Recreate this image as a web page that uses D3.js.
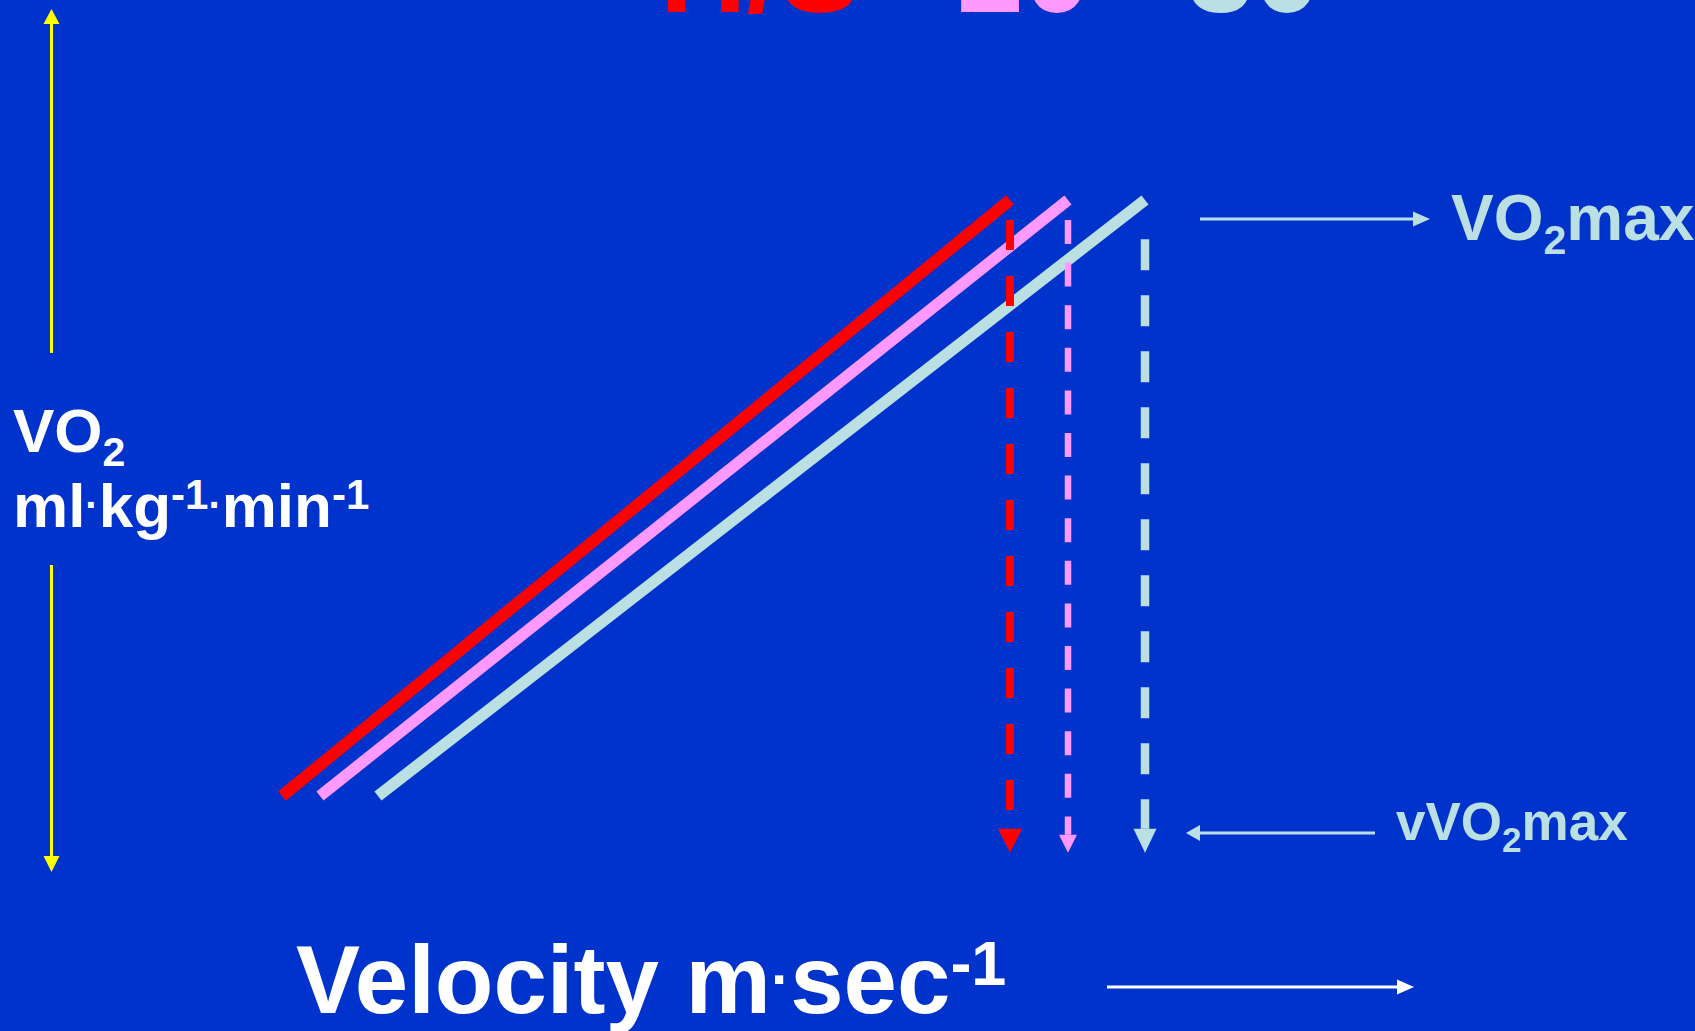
<!DOCTYPE html>
<html>
<head>
<meta charset="utf-8">
<script src="https://cdn.jsdelivr.net/npm/d3@7"></script>
<style>
  html, body { margin: 0; padding: 0; background: #0033CC; overflow: hidden; }
  svg { display: block; }
  text { font-family: "Liberation Sans", Arial, Helvetica, sans-serif; font-weight: bold; }
</style>
</head>
<body>
<svg id="chart" width="1695" height="1031"></svg>
<script>
// Groups compared: each has its own VO2–velocity line
const groups = ["H/S", "20", "30"];
// Velocity (relative units) where each line starts, and where it reaches VO2max (= vVO2max)
const velocityStart = [0.82, 1.20, 1.78];
const vVO2max = [8.10, 8.68, 9.45];
// VO2 (relative units) at the start of each line; all groups reach the same VO2max
const vo2Start = [13.0, 13.0, 13.0];
const vo2Max = [87.5, 87.5, 87.5];
// VO2 level where each vVO2max drop line begins, and the floor it points down to
const dropStart = [85.0, 85.0, 82.6];
const dropFloor = 5.9;

// Styling per group
const colors = ["#FF0000", "#FF99FF", "#BBE0E3"];
const lineWidths = [12, 11.5, 11.5];
const dropWidths = [8, 6.5, 8.5];
const dropDash = ["30 26", "24 18.6", "31 25"];
const headSize = [[24, 24], [18, 18], [23, 24]]; // [width, length]
const titleX = [660, 957, 1187];

const svg = d3.select("#chart");
const W = 1695, H = 1031;

svg.append("rect").attr("width", W).attr("height", H).attr("fill", "#0033CC");

const x = d3.scaleLinear().domain([0, 10]).range([200, 1200]);
const y = d3.scaleLinear().domain([0, 100]).range([900, 100]);

const rows = groups.map((g, i) => ({
  g, i,
  v0: velocityStart[i], v1: vVO2max[i],
  o0: vo2Start[i], o1: vo2Max[i],
  d0: dropStart[i]
}));

// Title (group names), its upper part runs off the top edge
svg.append("g").selectAll("text").data(rows).join("text")
  .attr("x", d => titleX[d.i])
  .attr("y", 12)
  .attr("font-size", 120)
  .attr("fill", d => colors[d.i])
  .text(d => d.g);

// VO2 vs velocity lines
const line = d3.line().x(p => x(p[0])).y(p => y(p[1]));
svg.append("g").selectAll("path").data(rows).join("path")
  .attr("d", d => line([[d.v0, d.o0], [d.v1, d.o1]]))
  .attr("fill", "none")
  .attr("stroke", d => colors[d.i])
  .attr("stroke-width", d => lineWidths[d.i])
  .attr("stroke-linecap", "butt");

// Dashed drop lines from VO2max down to vVO2max
const drops = svg.append("g");
drops.selectAll("line").data(rows).join("line")
  .attr("x1", d => x(d.v1))
  .attr("x2", d => x(d.v1))
  .attr("y1", d => y(d.d0))
  .attr("y2", d => y(dropFloor) - headSize[d.i][1])
  .attr("stroke", d => colors[d.i])
  .attr("stroke-width", d => dropWidths[d.i])
  .attr("stroke-dasharray", d => dropDash[d.i]);

drops.selectAll("path").data(rows).join("path")
  .attr("d", d => {
    const cx = x(d.v1), tip = y(dropFloor);
    const [w, l] = headSize[d.i];
    return `M${cx - w / 2},${tip - l}L${cx + w / 2},${tip - l}L${cx},${tip}Z`;
  })
  .attr("fill", d => colors[d.i]);

// Generic straight arrow helper (annotation arrows)
function arrow(g, x1, y1, x2, y2, color, width, hw, hl) {
  const ang = Math.atan2(y2 - y1, x2 - x1);
  const bx = x2 - hl * Math.cos(ang), by = y2 - hl * Math.sin(ang);
  g.append("line")
    .attr("x1", x1).attr("y1", y1).attr("x2", bx).attr("y2", by)
    .attr("stroke", color).attr("stroke-width", width);
  const px = -Math.sin(ang) * hw / 2, py = Math.cos(ang) * hw / 2;
  g.append("path")
    .attr("d", `M${bx + px},${by + py}L${x2},${y2}L${bx - px},${by - py}Z`)
    .attr("fill", color);
}

// Small raised middle dot used as a unit separator; returns the tspan after it
// (back on the baseline, plus any extra shift passed in)
function dot(t, size, lift, after = 0) {
  t.append("tspan").attr("font-size", size).attr("dy", -lift).text("\u00B7");
  return t.append("tspan").attr("dy", lift + after);
}

const ann = svg.append("g");

// Y axis: yellow double arrow split by its label
arrow(ann, 51.5, 353, 51.5, 9, "#FFFF00", 3, 16, 15);
arrow(ann, 51.5, 565, 51.5, 872, "#FFFF00", 3, 16, 16);

const yl = ann.append("text").attr("fill", "#FFFFFF").attr("font-size", 62);
const yl1 = yl.append("tspan").attr("x", 13).attr("y", 452);
yl1.append("tspan").text("VO");
yl1.append("tspan").attr("font-size", 41).attr("dy", 14).text("2");
const yl2 = ann.append("text").attr("fill", "#FFFFFF").attr("font-size", 62)
  .attr("x", 13).attr("y", 527);
yl2.append("tspan").text("ml");
dot(yl2, 40, 8).text("kg");
yl2.append("tspan").attr("font-size", 42).attr("dy", -18).text("-1");
// coming from the superscript (18 above baseline): dot sits 8 above baseline, then back down
dot(yl2, 40, -10, 18).text("min");
yl2.append("tspan").attr("font-size", 42).attr("dy", -18).text("-1");

// VO2max label with arrow
arrow(ann, 1200, 219, 1430, 219, "#BBE0E3", 3, 15, 17);
const vm = ann.append("text").attr("fill", "#BBE0E3").attr("font-size", 64)
  .attr("x", 1451).attr("y", 240);
vm.append("tspan").text("VO");
vm.append("tspan").attr("font-size", 41).attr("dy", 14).text("2");
vm.append("tspan").attr("dy", -14).text("max");

// vVO2max label with arrow pointing back at the drop lines
arrow(ann, 1375, 833, 1186, 833, "#BBE0E3", 3, 16, 14);
const vv = ann.append("text").attr("fill", "#BBE0E3").attr("font-size", 53)
  .attr("x", 1396).attr("y", 840);
vv.append("tspan").text("vVO");
vv.append("tspan").attr("font-size", 35).attr("dy", 12).text("2");
vv.append("tspan").attr("dy", -12).text("max");

// X axis label with arrow
const xl = ann.append("text").attr("fill", "#FFFFFF").attr("font-size", 96)
  .attr("x", 296).attr("y", 1013);
xl.append("tspan").text("Velocity m");
dot(xl, 58, 14).text("sec");
xl.append("tspan").attr("font-size", 63).attr("dy", -28).text("-1");
arrow(ann, 1107, 987, 1414, 987, "#FFFFFF", 3, 15, 17);
</script>
</body>
</html>
